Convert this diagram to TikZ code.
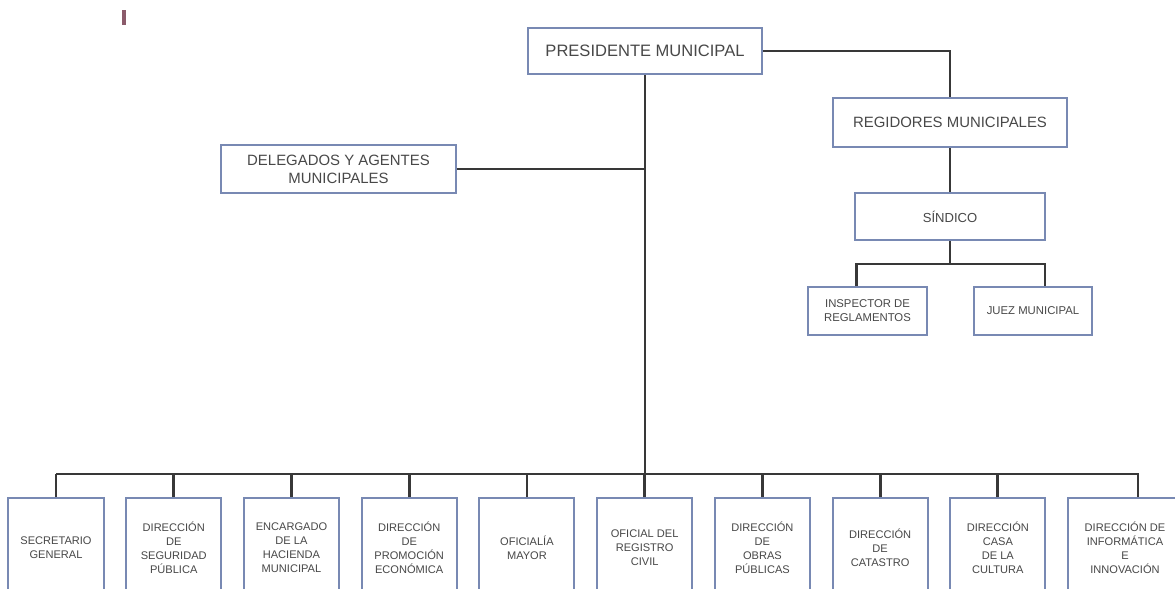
\documentclass[tikz,border=0pt]{standalone}
\usepackage{fontspec}
\setmainfont{Liberation Sans}
\usepackage{tikz}
\usetikzlibrary{positioning,calc}
\definecolor{boxblue}{HTML}{7889B3}
\definecolor{linegray}{HTML}{383838}
\definecolor{txtgray}{HTML}{484848}
\definecolor{markred}{HTML}{8B5B6B}
\tikzstyle{line}=[draw,linegray,line width=2.1pt]
\tikzstyle{block} =
  [rectangle, draw=boxblue, fill=white, line width=1.5pt, text=txtgray,
   align=center, inner sep=0pt]
\tikzstyle{bigbox} =
  [block, minimum width=176pt, minimum height=36pt,
   font=\fontsize{11.2}{13.5}\selectfont]
\tikzstyle{smallbox} =
  [block, minimum width=89pt, minimum height=36pt,
   font=\fontsize{8.5}{10.5}\selectfont]
\tikzstyle{unitbox} =
  [block, minimum width=71.3pt, minimum height=75pt,
   font=\fontsize{8.3}{10.5}\selectfont]

\begin{document}
\begin{tikzpicture}[x=0.75pt, y=-0.75pt, node distance=88.3pt]
  \useasboundingbox (0,0) rectangle (1175,589);
  \clip (0,0) rectangle (1175,589);
  \draw [markred, line width=2.5pt] (124,10) -- (124,25);

  \node [bigbox, minimum height=34.5pt, font=\fontsize{12.4}{14}\selectfont]
    (pres) at (645,51) {PRESIDENTE MUNICIPAL};
  \node [bigbox, minimum height=36.75pt] (reg) at (950,122.5)
    {REGIDORES MUNICIPALES};
  \node [bigbox] (del) at (338.5,169) {DELEGADOS Y AGENTES\\MUNICIPALES};
  \node [bigbox, minimum width=142.5pt, minimum height=35.25pt,
    font=\fontsize{9.8}{12}\selectfont] (sin) at (950,216.5) {SÍNDICO};
  \node [smallbox] (ins) at (867.5,311) {INSPECTOR DE\\REGLAMENTOS};
  \node [smallbox] (juez) at (1033,311) {JUEZ MUNICIPAL};

  \node [unitbox] (b1) at (56,548) {SECRETARIO\\GENERAL};
  \node [unitbox, right of=b1] (b2) {DIRECCIÓN\\DE\\SEGURIDAD\\PÚBLICA};
  \node [unitbox, right of=b2] (b3) {ENCARGADO\\DE LA\\HACIENDA\\MUNICIPAL};
  \node [unitbox, right of=b3] (b4) {DIRECCIÓN\\DE\\PROMOCIÓN\\ECONÓMICA};
  \node [unitbox, right of=b4] (b5) {OFICIALÍA\\MAYOR};
  \node [unitbox, right of=b5] (b6) {OFICIAL DEL\\REGISTRO\\CIVIL};
  \node [unitbox, right of=b6] (b7) {DIRECCIÓN\\DE\\OBRAS\\PÚBLICAS};
  \node [unitbox, right of=b7] (b8) {DIRECCIÓN\\DE\\CATASTRO};
  \node [unitbox, right of=b8] (b9) {DIRECCIÓN\\CASA\\DE LA\\CULTURA};
  \node [unitbox, minimum width=85.5pt] (b10) at (1125,548)
    {DIRECCIÓN DE\\INFORMÁTICA\\E\\INNOVACIÓN};

  \coordinate (bus) at (645,474);
  \coordinate (sbus) at (950,264);
  \coordinate (bend) at (1138,474);

  \draw [line] (pres.east) -| (reg.north);
  \draw [line] (reg.south) -- (sin.north);
  \draw [line] (sin.south) -- (sbus);
  \draw [line] ($(ins.north)+(-11,0)$) |- (sbus) -| ($(juez.north)+(12,0)$);
  \draw [line] (pres.south) -- (bus);
  \draw [line] (del.east) -- (del.east -| bus);
  \draw [line] (b1.north |- bus) -- (bend) -- (bend |- b10.north);
  \foreach \i in {1,...,9}
    \draw [line] (b\i.north) -- (b\i.north |- bus);
\end{tikzpicture}
\end{document}
